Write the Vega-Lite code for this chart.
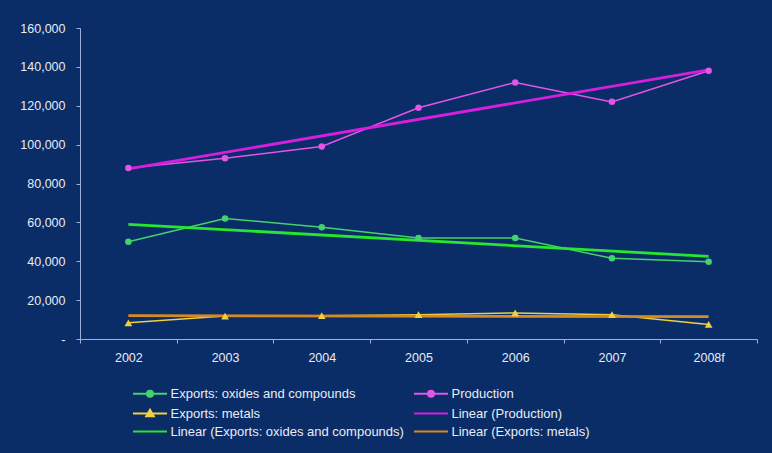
{
  "$schema": "https://vega.github.io/schema/vega-lite/v6.json",
  "width": 677,
  "height": 311,
  "autosize": {"type": "none"},
  "padding": {"left": 80, "top": 28, "right": 15, "bottom": 114},
  "background": "#0a2d68",
  "config": {"view": {"stroke": null}, "font": "Liberation Sans"},
  "data": {
    "values": [
      {"year": "2002", "series": "Production", "kind": "data", "value": 88000},
      {"year": "2003", "series": "Production", "kind": "data", "value": 93000},
      {"year": "2004", "series": "Production", "kind": "data", "value": 99000},
      {"year": "2005", "series": "Production", "kind": "data", "value": 119000},
      {"year": "2006", "series": "Production", "kind": "data", "value": 132000},
      {"year": "2007", "series": "Production", "kind": "data", "value": 122000},
      {"year": "2008f", "series": "Production", "kind": "data", "value": 138000},
      {"year": "2002", "series": "Exports: oxides and compounds", "kind": "data", "value": 50000},
      {"year": "2003", "series": "Exports: oxides and compounds", "kind": "data", "value": 62000},
      {"year": "2004", "series": "Exports: oxides and compounds", "kind": "data", "value": 57500},
      {"year": "2005", "series": "Exports: oxides and compounds", "kind": "data", "value": 52000},
      {"year": "2006", "series": "Exports: oxides and compounds", "kind": "data", "value": 52000},
      {"year": "2007", "series": "Exports: oxides and compounds", "kind": "data", "value": 41500},
      {"year": "2008f", "series": "Exports: oxides and compounds", "kind": "data", "value": 39800},
      {"year": "2002", "series": "Exports: metals", "kind": "data", "value": 8300},
      {"year": "2003", "series": "Exports: metals", "kind": "data", "value": 11800},
      {"year": "2004", "series": "Exports: metals", "kind": "data", "value": 12000},
      {"year": "2005", "series": "Exports: metals", "kind": "data", "value": 12500},
      {"year": "2006", "series": "Exports: metals", "kind": "data", "value": 13400},
      {"year": "2007", "series": "Exports: metals", "kind": "data", "value": 12500},
      {"year": "2008f", "series": "Exports: metals", "kind": "data", "value": 7500},
      {"year": "2002", "series": "Linear (Production)", "kind": "trend", "value": 87500},
      {"year": "2008f", "series": "Linear (Production)", "kind": "trend", "value": 138500},
      {"year": "2002", "series": "Linear (Exports: oxides and compounds)", "kind": "trend", "value": 59000},
      {"year": "2008f", "series": "Linear (Exports: oxides and compounds)", "kind": "trend", "value": 42500},
      {"year": "2002", "series": "Linear (Exports: metals)", "kind": "trend", "value": 12000},
      {"year": "2008f", "series": "Linear (Exports: metals)", "kind": "trend", "value": 11500}
    ]
  },
  "encoding": {
    "x": {
      "field": "year",
      "type": "ordinal",
      "sort": null,
      "scale": {
        "type": "band",
        "domain": ["2002", "2003", "2004", "2005", "2006", "2007", "2008f"],
        "paddingInner": 0,
        "paddingOuter": 0
      },
      "axis": {
        "title": null,
        "tickBand": "extent",
        "grid": false,
        "labelAngle": 0,
        "domainColor": "#9fb0d8",
        "tickColor": "#9fb0d8",
        "tickSize": 4,
        "labelColor": "#e8ecf4",
        "labelFontSize": 12.5,
        "labelPadding": 8
      }
    },
    "y": {
      "field": "value",
      "type": "quantitative",
      "scale": {"domain": [0, 160000], "nice": false},
      "axis": {
        "title": null,
        "grid": false,
        "values": [0, 20000, 40000, 60000, 80000, 100000, 120000, 140000, 160000],
        "format": ",.0f",
        "labelExpr": "datum.value === 0 ? '-    ' : datum.label",
        "domainColor": "#9fb0d8",
        "tickColor": "#9fb0d8",
        "tickSize": 4,
        "labelColor": "#e8ecf4",
        "labelFontSize": 12.5,
        "labelPadding": 11
      }
    },
    "color": {
      "field": "series",
      "type": "nominal",
      "scale": {
        "domain": [
          "Exports: oxides and compounds",
          "Exports: metals",
          "Linear (Exports: oxides and compounds)",
          "Production",
          "Linear (Production)",
          "Linear (Exports: metals)"
        ],
        "range": ["#44d26e", "#f0d040", "#26e62e", "#e454e8", "#d61ede", "#d88a20"]
      },
      "legend": {
        "title": null,
        "orient": "none",
        "legendX": 63.5,
        "legendY": 359,
        "columns": 2,
        "columnPadding": 5,
        "rowPadding": 4,
        "labelFontSize": 13,
        "labelColor": "#e8ecf4",
        "labelLimit": 400,
        "labelOffset": 14,
        "symbolSize": 100,
        "symbolStrokeWidth": 2,
        "encode": {
          "symbols": {
            "update": {
              "shape": {
                "signal": "datum.value === 'Exports: metals' ? 'M-3.4,0L3.4,0M0,-0.75L0.75,0.55L-0.75,0.55Z' : (datum.value === 'Production' || datum.value === 'Exports: oxides and compounds') ? 'M-3.4,0L3.4,0M-0.6,0A0.6,0.6 0 1,1 0.6,0A0.6,0.6 0 1,1 -0.6,0Z' : 'M-3.4,0L3.4,0'"
              },
              "fill": {"scale": "color", "field": "value"},
              "stroke": {"scale": "color", "field": "value"}
            }
          }
        }
      }
    }
  },
  "layer": [
    {
      "transform": [{"filter": "datum.kind === 'data'"}],
      "mark": {"type": "line", "strokeWidth": 1.5}
    },
    {
      "transform": [{"filter": "datum.kind === 'trend'"}],
      "mark": {"type": "line", "strokeWidth": 2.8}
    },
    {
      "transform": [{"filter": "datum.kind === 'data' && datum.series !== 'Exports: metals'"}],
      "mark": {"type": "point", "shape": "circle", "filled": true, "size": 42, "opacity": 1}
    },
    {
      "transform": [{"filter": "datum.series === 'Exports: metals'"}],
      "mark": {"type": "point", "shape": "triangle-up", "filled": true, "size": 60, "opacity": 1}
    }
  ]
}
